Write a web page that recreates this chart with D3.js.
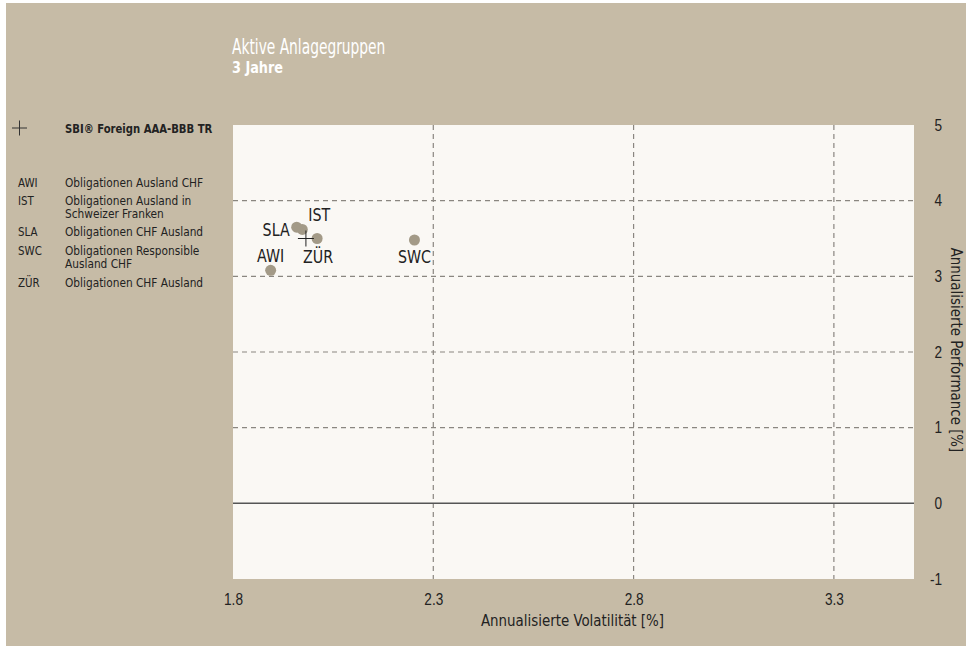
<!DOCTYPE html>
<html><head><meta charset="utf-8">
<script src="https://cdn.jsdelivr.net/npm/d3@7"></script>
<style>
body{margin:0;background:#fff;}
svg{display:block;font-family:"DejaVu Sans Condensed","Liberation Sans Narrow","Roboto",sans-serif;}
</style></head>
<body><svg id="c" width="966" height="646"></svg>
<script>
const codes = ["AWI","IST","SLA","SWC","ZÜR"];
const names = [["Obligationen Ausland CHF"],["Obligationen Ausland in","Schweizer Franken"],["Obligationen CHF Ausland"],["Obligationen Responsible","Ausland CHF"],["Obligationen CHF Ausland"]];
const volatility = [1.894, 1.973, 1.959, 2.253, 2.010];
const performance = [3.08, 3.62, 3.65, 3.48, 3.50];
const benchmarkName = "SBI® Foreign AAA-BBB TR";
const benchmark = [1.982, 3.50];
const xTicks = [1.8, 2.3, 2.8, 3.3];
const yTicks = [-1, 0, 1, 2, 3, 4, 5];
// label placement per point: [anchor, dx, dy]
const labelPos = {"AWI":["middle",0,-8],"IST":["start",6,-8],"SLA":["end",-7,9],"SWC":["middle",0,23],"ZÜR":["middle",1,24]};

const svg = d3.select("#c");
function squeeze(sel, k){ sel.each(function(){ const w=this.getComputedTextLength(); d3.select(this).attr("textLength", w*k).attr("lengthAdjust","spacingAndGlyphs"); }); return sel; }

svg.append("rect").attr("x",6).attr("y",3).attr("width",960).attr("height",643).attr("fill","#c6bba6");

const L=233,R=914,T=125,B=579;
const x = d3.scaleLinear().domain([1.8,3.5]).range([L,R]);
const y = d3.scaleLinear().domain([-1,5]).range([B,T]);

svg.append("rect").attr("x",L).attr("y",T).attr("width",R-L).attr("height",B-T).attr("fill","#faf8f4");

// grid
const g = svg.append("g");
g.selectAll(".vg").data(xTicks.filter(d=>d>1.8)).join("line")
  .attr("x1",d=>x(d)).attr("x2",d=>x(d)).attr("y1",T).attr("y2",B)
  .attr("stroke","#8a8680").attr("stroke-width",1.2).attr("stroke-dasharray","5,4");
g.selectAll(".hg").data(yTicks.filter(d=>d>0&&d<5)).join("line")
  .attr("x1",L).attr("x2",R).attr("y1",d=>y(d)).attr("y2",d=>y(d))
  .attr("stroke","#8a8680").attr("stroke-width",1.2).attr("stroke-dasharray","5,4");
g.append("line").attr("x1",L).attr("x2",R).attr("y1",y(0)).attr("y2",y(0))
  .attr("stroke","#555").attr("stroke-width",1.5);

// axes
const xAxis = svg.append("g").attr("transform",`translate(0,${B})`)
  .call(d3.axisBottom(x).tickValues(xTicks).tickFormat(d3.format(".1f")).tickSize(0).tickPadding(15));
xAxis.select(".domain").remove();
xAxis.selectAll("text").attr("font-size",16).attr("fill","#222").attr("font-family","inherit");
squeeze(xAxis.selectAll("text"),0.85);
const yAxis = svg.append("g").attr("transform",`translate(${R},0)`)
  .call(d3.axisRight(y).tickValues(yTicks).tickFormat(d=>String(d)).tickSize(0).tickPadding(28));
yAxis.select(".domain").remove();
yAxis.selectAll("text").attr("font-size",16).attr("fill","#222").attr("font-family","inherit").attr("text-anchor","end");
squeeze(yAxis.selectAll("text"),0.85);

squeeze(svg.append("text").attr("x",(L+R)/2-1).attr("y",626).attr("text-anchor","middle")
  .attr("font-size",16).attr("fill","#222").text("Annualisierte Volatilität [%]"),0.93);
squeeze(svg.append("text").attr("transform",`translate(951,${(T+B)/2 - 2}) rotate(90)`).attr("text-anchor","middle")
  .attr("font-size",16).attr("fill","#222").text("Annualisierte Performance [%]"),0.93);

// title
squeeze(svg.append("text").attr("x",232).attr("y",54).attr("font-size",21).attr("fill","#fff").text("Aktive Anlagegruppen"),0.73);
squeeze(svg.append("text").attr("x",232).attr("y",73).attr("font-size",15).attr("font-weight","bold").attr("fill","#fff").text("3 Jahre"),0.95);

// points
const pts = codes.map((c,i)=>({c, v:volatility[i], p:performance[i]}));
svg.selectAll(".pt").data(pts).join("circle")
  .attr("cx",d=>x(d.v)).attr("cy",d=>y(d.p)).attr("r",5.5).attr("fill","#a39a87");
squeeze(svg.selectAll(".lb").data(pts).join("text")
  .attr("x",d=>x(d.v)+labelPos[d.c][1]).attr("y",d=>y(d.p)+labelPos[d.c][2])
  .attr("text-anchor",d=>labelPos[d.c][0]).attr("font-size",18).attr("fill","#222").text(d=>d.c),0.88);

// benchmark cross
const bx=x(benchmark[0]), by=y(benchmark[1]);
svg.append("path").attr("d",`M${bx-8},${by}H${bx+8}M${bx},${by-8}V${by+8}`).attr("stroke","#222").attr("stroke-width",1);

// legend
svg.append("path").attr("d",`M12,128H27M19.5,120.5V135.5`).attr("stroke","#333").attr("stroke-width",1);
squeeze(svg.append("text").attr("x",65).attr("y",133).attr("font-size",13).attr("font-weight","bold").attr("fill","#222").text(benchmarkName),0.86);
let ly = 187;
codes.forEach((c,i)=>{
  squeeze(svg.append("text").attr("x",18).attr("y",ly).attr("font-size",12).attr("fill","#222").text(c),0.95);
  names[i].forEach((n,j)=>{
    squeeze(svg.append("text").attr("x",65).attr("y",ly+j*13).attr("font-size",12).attr("fill","#222").text(n),0.98);
  });
  ly += (names[i].length-1)*13 + 18 + (i>=2 ? 1 : 0);
});
</script></body></html>
